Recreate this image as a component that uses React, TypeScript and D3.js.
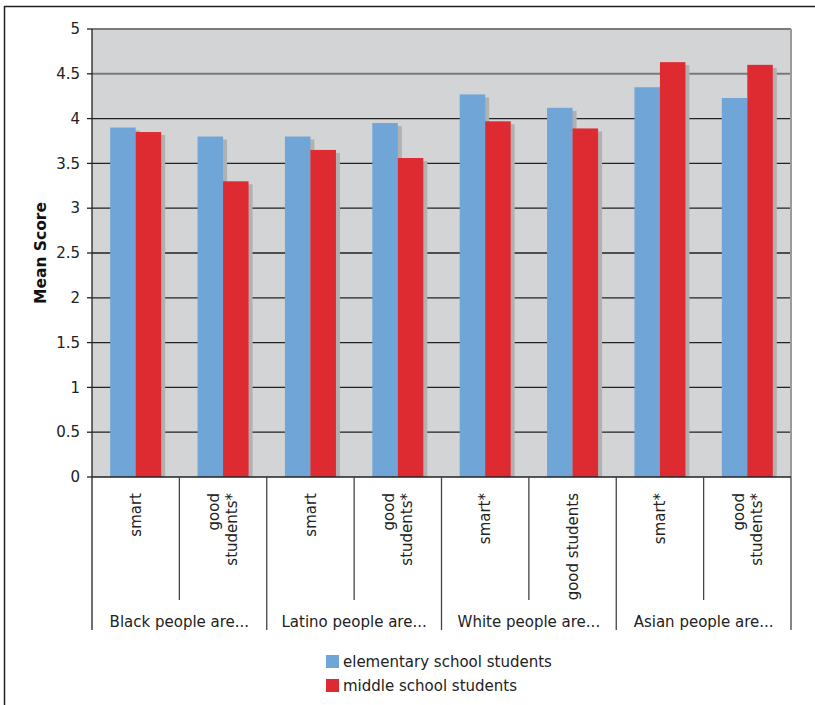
import React from "react";
import * as d3 from "d3";

const groups = ["Black people are...", "Latino people are...", "White people are...", "Asian people are..."];
const subLabels: string[][] = [
  ["smart"], ["good", "students*"],
  ["smart"], ["good", "students*"],
  ["smart*"], ["good students"],
  ["smart*"], ["good", "students*"],
];
const elementary = [3.9, 3.8, 3.8, 3.95, 4.27, 4.12, 4.35, 4.23];
const middle = [3.85, 3.3, 3.65, 3.56, 3.97, 3.89, 4.63, 4.6];
const seriesNames = ["elementary school students", "middle school students"];
const yTicks = [0, 0.5, 1, 1.5, 2, 2.5, 3, 3.5, 4, 4.5, 5];
const yTickLabels = ["0", "0.5", "1", "1.5", "2", "2.5", "3", "3.5", "4", "4.5", "5"];

const W = 815, H = 705;
const L = 92, R = 791, T = 29, B = 477;
const BLUE = "#70a5d7";
const RED = "#de2a31";
const FONT = "DejaVu Sans, Verdana, sans-serif";
const FS = 15;

export default function App() {
  const x = d3.scaleBand<number>().domain(d3.range(8)).range([L, R]).paddingInner(0).paddingOuter(0);
  const y = d3.scaleLinear().domain([0, 5]).range([B, T]);
  const bw = x.bandwidth();
  const barW = 25.5;
  const gap = (bw - 2 * barW) / 2;
  const series = [elementary, middle];
  const colors = [BLUE, RED];
  return (
    <svg width={W} height={H} style={{ position: "absolute", left: 0, top: 0, background: "#fff" }} fontFamily={FONT}>
      <rect x={0} y={0} width={W} height={H} fill="#fff" />
      {/* outer frame */}
      <line x1={4.5} y1={6} x2={4.5} y2={H} stroke="#222" strokeWidth={1.5} />
      <line x1={4} y1={6.5} x2={W} y2={6.5} stroke="#222" strokeWidth={1.5} />
      {/* plot area */}
      <rect x={L} y={T} width={R - L} height={B - T} fill="#d3d4d6" />
      {yTicks.filter(t => t > 0).map((t, i) => (
        <line key={"g" + i} x1={L} x2={R} y1={y(t)} y2={y(t)}
          stroke={t >= 4.5 ? "#7a7a7a" : "#222"} strokeWidth={t >= 4.5 ? 2 : 1.3} />
      ))}
      <line x1={R} x2={R} y1={T} y2={B} stroke="#9a9a9a" strokeWidth={2} />
      {/* shadows */}
      {series.map((s, si) => s.map((v, i) => (
        <rect key={"s" + si + "-" + i} x={(x(i) as number) + gap + si * barW + 4} y={y(v) + 3}
          width={barW} height={B - y(v) - 3} fill="#b1b1b1" />
      )))}
      {series.map((s, si) => s.map((v, i) => (
        <rect key={"b" + si + "-" + i} x={(x(i) as number) + gap + si * barW} y={y(v)}
          width={barW} height={B - y(v)} fill={colors[si]} />
      )))}
      {/* axes */}
      <line x1={L} x2={R} y1={B} y2={B} stroke="#222" strokeWidth={1.3} />
      <line x1={L} x2={L} y1={T} y2={630} stroke="#222" strokeWidth={1.3} />
      {yTicks.map((t, i) => (
        <g key={"t" + i}>
          <line x1={L - 5} x2={L} y1={y(t)} y2={y(t)} stroke="#222" strokeWidth={1.3} />
          <text x={L - 12} y={y(t)} dy="0.35em" textAnchor="end" fontSize={FS} fill="#222">{yTickLabels[i]}</text>
        </g>
      ))}
      <text transform={`translate(46,${(T + B) / 2}) rotate(-90)`} textAnchor="middle" fontSize={15.5} fontWeight="bold" fill="#111">Mean Score</text>
      {/* category dividers */}
      {d3.range(1, 9).map(i => {
        const xx = i < 8 ? (x(i) as number) : R;
        const major = i % 2 === 0;
        return <line key={"d" + i} x1={xx} x2={xx} y1={B} y2={major ? 630 : 600} stroke="#444" strokeWidth={1.3} />;
      })}
      {subLabels.map((lines, i) => {
        const cx = (x(i) as number) + bw / 2;
        const n = lines.length;
        return (
          <text key={"sl" + i} transform={`translate(${cx},${B + 16}) rotate(-90)`} textAnchor="end" fontSize={FS} fill="#222">
            {lines.map((ln, j) => (
              <tspan key={j} x={0} y={(j - (n - 1) / 2) * 18} dy="0.35em">{ln}</tspan>
            ))}
          </text>
        );
      })}
      {groups.map((g, gi) => (
        <text key={"gl" + gi} x={(x(gi * 2) as number) + bw} y={627} textAnchor="middle" fontSize={FS} fill="#222">{g}</text>
      ))}
      {/* legend */}
      {seriesNames.map((n, i) => (
        <g key={"lg" + i}>
          <rect x={326} y={655 + i * 24} width={13} height={13} fill={colors[i]} />
          <text x={343} y={667 + i * 24} fontSize={FS} fill="#222">{n}</text>
        </g>
      ))}
    </svg>
  );
}
